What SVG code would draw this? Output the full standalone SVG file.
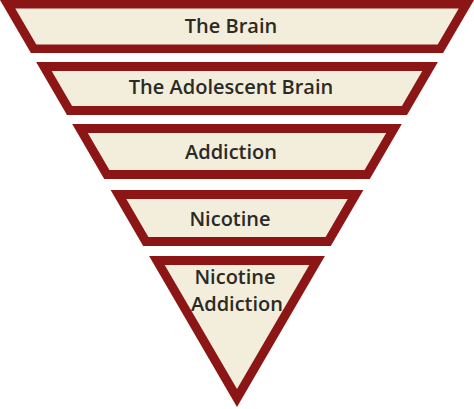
<svg xmlns="http://www.w3.org/2000/svg" width="474" height="409" viewBox="0 0 474 409">
<style>
.o{fill:#8c1515}
.i{fill:#f3eddb}
text{font-family:"Open Sans","Liberation Sans",sans-serif;font-weight:600;font-size:20px;fill:#2b2a24;text-anchor:middle}
</style>
<rect width="474" height="409" fill="#ffffff"/>
<g id="brain">
<polygon class="o" points="0,0 474,0 443.1,53 30.9,53"/>
<polygon class="i" points="15.3,8.5 458.7,8.5 437.7,44.5 36.3,44.5"/>
<text x="231" y="33">The Brain</text>
</g>
<g id="adolescent">
<polygon class="o" points="36.1,62 437.9,62 407,115 67,115"/>
<polygon class="i" points="51.7,71 422.3,71 401.9,106 72.1,106"/>
<text x="231" y="94">The Adolescent Brain</text>
</g>
<g id="addiction">
<polygon class="o" points="72.2,124 401.8,124 369.8,179 104.2,179"/>
<polygon class="i" points="87.8,133 386.2,133 364.6,170 109.4,170"/>
<text x="231" y="159">Addiction</text>
</g>
<g id="nicotine">
<polygon class="o" points="110.6,190 363.4,190 330.8,246 143.2,246"/>
<polygon class="i" points="126.3,199 347.7,199 325.6,237 148.4,237"/>
<text x="230" y="226">Nicotine</text>
</g>
<g id="nicotine-addiction">
<polygon class="o" points="149.1,256 324.9,256 237,407"/>
<polygon class="i" points="164.7,265 309.3,265 237,389"/>
<text x="235" y="284">Nicotine</text>
<text x="237" y="311">Addiction</text>
</g>
<g id="connectors"/>
</svg>
